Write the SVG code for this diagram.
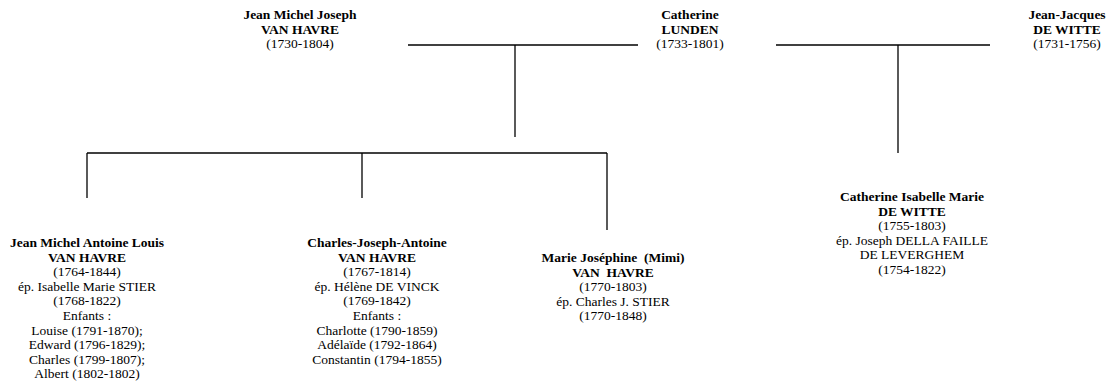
<svg xmlns="http://www.w3.org/2000/svg" width="1106" height="387" viewBox="0 0 1106 387">
<style>
text{font-family:"Liberation Serif","Times New Roman",serif;font-size:13.5px;fill:#000;text-anchor:middle}
.b{font-weight:bold}
.c line{stroke:#000;stroke-width:1.3;fill:none}
</style>
<rect width="1106" height="387" fill="#fff"/>
<g class="c" id="connectors">
<line x1="408" y1="45" x2="638" y2="45"/>
<line x1="776" y1="45" x2="990" y2="45"/>
<line x1="515" y1="45" x2="515" y2="137"/>
<line x1="898" y1="45" x2="898" y2="153"/>
<line x1="87" y1="153" x2="607" y2="153"/>
<line x1="87" y1="153" x2="87" y2="198"/>
<line x1="362" y1="153" x2="362" y2="198"/>
<line x1="607" y1="153" x2="607" y2="230"/>
</g>
<g id="jmj">
<text x="300" y="19" class="b">Jean Michel Joseph</text>
<text x="300" y="33.5" class="b">VAN HAVRE</text>
<text x="300" y="48">(1730-1804)</text>
</g>
<g id="catherine">
<text x="690" y="19" class="b">Catherine</text>
<text x="690" y="33.5" class="b">LUNDEN</text>
<text x="690" y="48">(1733-1801)</text>
</g>
<g id="jjdw">
<text x="1067" y="19" class="b">Jean-Jacques</text>
<text x="1067" y="33.5" class="b">DE WITTE</text>
<text x="1067" y="48">(1731-1756)</text>
</g>
<g id="jmal">
<text x="87" y="247" class="b">Jean Michel Antoine Louis</text>
<text x="87" y="261.6" class="b">VAN HAVRE</text>
<text x="87" y="276.2">(1764-1844)</text>
<text x="87" y="290.8">ép. Isabelle Marie STIER</text>
<text x="87" y="305.4">(1768-1822)</text>
<text x="87" y="320">Enfants :</text>
<text x="87" y="334.6">Louise (1791-1870);</text>
<text x="87" y="349.2">Edward (1796-1829);</text>
<text x="87" y="363.8">Charles (1799-1807);</text>
<text x="87" y="378.4">Albert (1802-1802)</text>
</g>
<g id="cja">
<text x="377" y="247" class="b">Charles-Joseph-Antoine</text>
<text x="377" y="261.6" class="b">VAN HAVRE</text>
<text x="377" y="276.2">(1767-1814)</text>
<text x="377" y="290.8">ép. Hélène DE VINCK</text>
<text x="377" y="305.4">(1769-1842)</text>
<text x="377" y="320">Enfants :</text>
<text x="377" y="334.6">Charlotte (1790-1859)</text>
<text x="377" y="349.2">Adélaïde (1792-1864)</text>
<text x="377" y="363.8">Constantin (1794-1855)</text>
</g>
<g id="mj">
<text x="613" y="262" class="b" xml:space="preserve">Marie Joséphine  (Mimi)</text>
<text x="613" y="276.6" class="b" xml:space="preserve">VAN  HAVRE</text>
<text x="613" y="291.2">(1770-1803)</text>
<text x="613" y="305.8">ép. Charles J. STIER</text>
<text x="613" y="320.4">(1770-1848)</text>
</g>
<g id="cim">
<text x="912" y="201" class="b">Catherine Isabelle Marie</text>
<text x="912" y="215.6" class="b">DE WITTE</text>
<text x="912" y="230.2">(1755-1803)</text>
<text x="912" y="244.8">ép. Joseph DELLA FAILLE</text>
<text x="912" y="259.4">DE LEVERGHEM</text>
<text x="912" y="274">(1754-1822)</text>
</g>
</svg>
